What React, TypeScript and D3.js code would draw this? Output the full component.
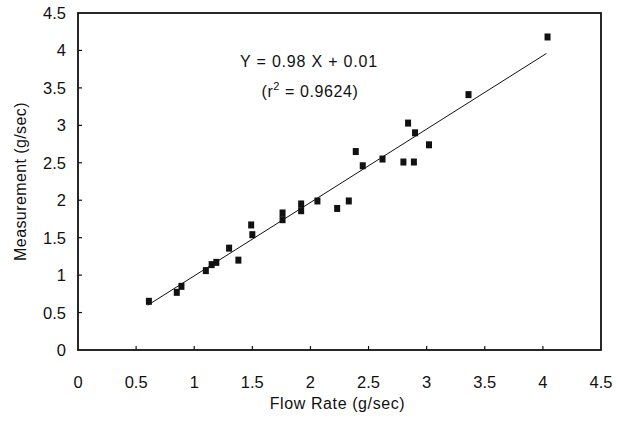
import React, { useEffect, useRef } from 'react';
import * as d3 from 'd3';

const flowRate = [0.61, 0.85, 0.89, 1.1, 1.15, 1.19, 1.3, 1.38, 1.49, 1.5, 1.76, 1.76, 1.92, 1.92,
  2.06, 2.23, 2.33, 2.39, 2.45, 2.62, 2.8, 2.84, 2.89, 2.9, 3.02, 3.36, 4.04];
const measurement = [0.65, 0.77, 0.85, 1.06, 1.14, 1.17, 1.36, 1.2, 1.67, 1.54, 1.83, 1.74, 1.95, 1.86,
  1.99, 1.89, 1.99, 2.65, 2.46, 2.55, 2.51, 3.03, 2.51, 2.9, 2.74, 3.41, 4.18];
const xTicks = [0, 0.5, 1, 1.5, 2, 2.5, 3, 3.5, 4, 4.5];
const yTicks = [0, 0.5, 1, 1.5, 2, 2.5, 3, 3.5, 4, 4.5];
const fitRange = [0.6, 4.03];
const slope = 0.98, intercept = 0.01;

const W = 618, H = 428;
const margin = { left: 78, right: 17, top: 13, bottom: 78 };
const FONT = '"Liberation Sans", Arial, sans-serif';

export default function App() {
  const ref = useRef<SVGSVGElement>(null);

  useEffect(() => {
    const svg = d3.select(ref.current);
    svg.selectAll('*').remove();

    const x = d3.scaleLinear().domain([0, 4.5]).range([margin.left, W - margin.right]);
    const y = d3.scaleLinear().domain([0, 4.5]).range([H - margin.bottom, margin.top]);

    const g = svg.append('g');

    // frame
    g.append('rect')
      .attr('x', x(0)).attr('y', y(4.5))
      .attr('width', x(4.5) - x(0)).attr('height', y(0) - y(4.5))
      .attr('fill', 'none').attr('stroke', '#111').attr('stroke-width', 1.8);

    // inward ticks
    g.selectAll('.xt').data(xTicks.slice(1, -1)).enter().append('line')
      .attr('x1', d => x(d)).attr('x2', d => x(d))
      .attr('y1', y(0)).attr('y2', y(0) - 4)
      .attr('stroke', '#111').attr('stroke-width', 1.2);
    g.selectAll('.yt').data(yTicks.slice(1, -1)).enter().append('line')
      .attr('x1', x(0)).attr('x2', x(0) + 4)
      .attr('y1', d => y(d)).attr('y2', d => y(d))
      .attr('stroke', '#111').attr('stroke-width', 1.2);

    // tick labels
    g.selectAll('.xl').data(xTicks).enter().append('text')
      .attr('x', d => x(d)).attr('y', y(0) + 38)
      .attr('text-anchor', 'middle')
      .style('font-family', FONT).style('font-size', '16.5px').attr('fill', '#111')
      .text(d => String(d));
    g.selectAll('.yl').data(yTicks).enter().append('text')
      .attr('x', x(0) - 12).attr('y', d => y(d) + 6)
      .attr('text-anchor', 'end')
      .style('font-family', FONT).style('font-size', '16.5px').attr('fill', '#111')
      .text(d => String(d));

    // axis titles
    g.append('text')
      .attr('x', (x(0) + x(4.5)) / 2 - 2).attr('y', 409)
      .attr('text-anchor', 'middle')
      .style('font-family', FONT).style('font-size', '16px').style('letter-spacing', '0.6px')
      .attr('fill', '#111')
      .text('Flow Rate (g/sec)');
    g.append('text')
      .attr('transform', `translate(26,${(y(0) + y(4.5)) / 2}) rotate(-90)`)
      .attr('text-anchor', 'middle')
      .style('font-family', FONT).style('font-size', '16px').style('letter-spacing', '0.4px')
      .attr('fill', '#111')
      .text('Measurement (g/sec)');

    // regression line
    const line = d3.line<number>().x(d => x(d)).y(d => y(slope * d + intercept));
    g.append('path')
      .attr('d', line(fitRange))
      .attr('fill', 'none').attr('stroke', '#111').attr('stroke-width', 1);

    // points
    g.selectAll('.pt').data(flowRate).enter().append('rect')
      .attr('x', d => x(d) - 3).attr('y', (d, i) => y(measurement[i]) - 3.5)
      .attr('width', 6).attr('height', 7)
      .attr('fill', '#111');

    // equation
    g.append('text')
      .attr('x', 309).attr('y', 67)
      .attr('text-anchor', 'middle')
      .style('font-family', FONT).style('font-size', '16px').style('letter-spacing', '0.8px')
      .attr('fill', '#111')
      .text('Y = 0.98 X + 0.01');
    const l2 = g.append('text')
      .attr('x', 310).attr('y', 97)
      .attr('text-anchor', 'middle')
      .style('font-family', FONT).style('font-size', '16px').style('letter-spacing', '0.6px')
      .attr('fill', '#111');
    l2.append('tspan').text('(r');
    l2.append('tspan').attr('dy', -7).style('font-size', '11px').text('2');
    l2.append('tspan').attr('dy', 7).text(' = 0.9624)');
  }, []);

  return (
    <svg ref={ref} width={W} height={H}
      style={{ position: 'absolute', left: 0, top: 0, background: '#fff' }} />
  );
}
